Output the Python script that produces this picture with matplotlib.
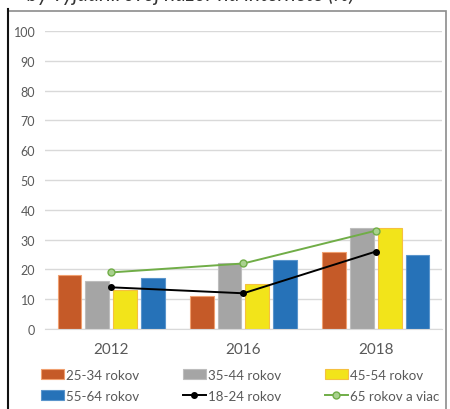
import matplotlib.pyplot as plt
import matplotlib.patches as mpatches
from matplotlib.lines import Line2D
import numpy as np

plt.rcParams['font.family'] = ['Lato', 'DejaVu Sans']

# Data
years = ['2012', '2016', '2018']
age_25_34 = [18, 11, 26]
age_35_44 = [16, 22, 34]
age_45_54 = [13, 15, 34]
age_55_64 = [17, 23, 25]
age_18_24 = [14, 12, 26]
age_65_plus = [19, 22, 33]

txt = '#595959'
fig = plt.figure(figsize=(4.5, 4.1), dpi=100)

# frame around the chart
fig.patches.append(mpatches.Rectangle((8 / 450, -0.01), 438 / 450, 1 - 12 / 410 + 0.01,
                                      transform=fig.transFigure, fill=False,
                                      edgecolor='#8c8c8c', linewidth=1.2))
fig.lines.append(Line2D([8 / 450, 8 / 450], [0, 1 - 10 / 410], transform=fig.transFigure,
                        color='#111111', linewidth=1.5))

# cut-off title at the very top
fig.text(0.06, 1.012, 'by vyjadrili svoj názor na internete (%)', fontsize=15,
         style='italic', color='#333333', ha='left', va='center')

ax = fig.add_axes([0.1, 0.195, 0.882, 0.727])
x = np.arange(len(years))
w = 0.18
step = 0.21

ax.bar(x - 1.5 * step, age_25_34, w, color='#C55A28', edgecolor='#F0A070', linewidth=0.8, label='25-34 rokov', zorder=2)
ax.bar(x - 0.5 * step, age_35_44, w, color='#A5A5A5', edgecolor='#BDBDBD', linewidth=0.8, label='35-44 rokov', zorder=2)
ax.bar(x + 0.5 * step, age_45_54, w, color='#F2E41A', edgecolor='#F5C040', linewidth=0.8, label='45-54 rokov', zorder=2)
ax.bar(x + 1.5 * step, age_55_64, w, color='#2672B8', edgecolor='#5A95CC', linewidth=0.8, label='55-64 rokov', zorder=2)

ax.plot(x, age_18_24, color='black', linewidth=1.4, marker='o', markersize=4, label='18-24 rokov', zorder=3)
ax.plot(x, age_65_plus, color='#70AD47', linewidth=1.4, marker='o', markersize=5,
        markerfacecolor='#A9D18E', markeredgecolor='#70AD47', label='65 rokov a viac', zorder=3)

ax.set_xlim(-0.5, 2.5)
ax.set_ylim(0, 100)
ax.set_yticks(range(0, 101, 10))
ax.set_xticks(x)
ax.set_xticklabels(years)
ax.grid(axis='y', color='#D9D9D9', linewidth=1, zorder=0)
for s in ['top', 'right', 'left']:
    ax.spines[s].set_visible(False)
ax.spines['bottom'].set_color('#D9D9D9')
ax.tick_params(axis='y', length=0, labelsize=9, labelcolor=txt, pad=7)
ax.tick_params(axis='x', length=0, labelsize=11, labelcolor=txt, pad=9)

h, l = ax.get_legend_handles_labels()
# handles: lines first, then bars -> reorder for column-wise fill
order = [2, 5, 3, 0, 4, 1]
fig.legend([h[i] for i in order], [l[i] for i in order], ncol=3, loc='lower left',
           bbox_to_anchor=(0.065, -0.012), frameon=False, fontsize=9.6, labelcolor=txt,
           handlelength=1.7, handleheight=0.8, handletextpad=0.15, columnspacing=3.3,
           labelspacing=0.7)

fig.savefig('out.png', dpi=100)
